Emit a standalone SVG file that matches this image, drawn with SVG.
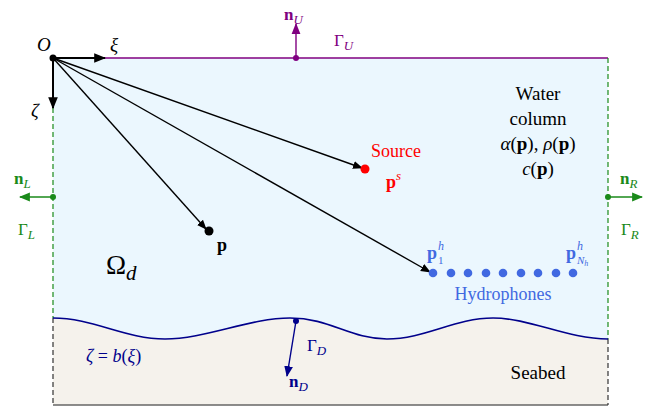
<svg xmlns="http://www.w3.org/2000/svg" width="667" height="412" viewBox="0 0 667 412" font-family="Liberation Serif">
<style>
.it{font-style:italic;}
.b{font-weight:bold;}
.blk{stroke:#000;stroke-width:1.4;fill:none;}
</style>
<defs>
<marker id="ak" viewBox="0 0 10 10" refX="9" refY="5" markerWidth="10" markerHeight="10" markerUnits="userSpaceOnUse" orient="auto"><path d="M0,1 L10,5 L0,9 Z" fill="#000"/></marker>
<marker id="akb" viewBox="0 0 10 10" refX="9" refY="5" markerWidth="12" markerHeight="12" markerUnits="userSpaceOnUse" orient="auto"><path d="M0,1 L10,5 L0,9 Z" fill="#000"/></marker>
<marker id="ap" viewBox="0 0 10 10" refX="9" refY="5" markerWidth="11" markerHeight="11" markerUnits="userSpaceOnUse" orient="auto"><path d="M0,1 L10,5 L0,9 Z" fill="#800080"/></marker>
<marker id="ag" viewBox="0 0 10 10" refX="9" refY="5" markerWidth="11" markerHeight="11" markerUnits="userSpaceOnUse" orient="auto"><path d="M0,1 L10,5 L0,9 Z" fill="#1a8a1a"/></marker>
<marker id="an" viewBox="0 0 10 10" refX="9" refY="5" markerWidth="11" markerHeight="11" markerUnits="userSpaceOnUse" orient="auto"><path d="M0,1 L10,5 L0,9 Z" fill="#00008b"/></marker>
</defs>

<g id="domain">
<path id="water" d="M53,58 H608 V339 C567,339 530,318 493,318 C455,318 425,339 387,339 C350,339 330,318 290,318 C250,318 205,339 165,339 C125,339 93,318 53,318 Z" fill="#ebf7fe"/>
<path id="seabed" d="M53,318 C93,318 125,339 165,339 C205,339 250,318 290,318 C330,318 350,339 387,339 C425,339 455,318 493,318 C530,318 567,339 608,339 V405 H53 Z" fill="#f5f2ec"/>
<line x1="53" y1="405" x2="608" y2="405" stroke="#666" stroke-width="1.6"/>
<line x1="53" y1="318" x2="53" y2="405" stroke="#333" stroke-width="1.2" stroke-dasharray="5,3"/>
<line x1="608" y1="339" x2="608" y2="405" stroke="#333" stroke-width="1.2" stroke-dasharray="5,3"/>
</g>

<g id="gammaU">
<line x1="53" y1="58" x2="608" y2="58" stroke="#800080" stroke-width="1.4"/>
<circle cx="296" cy="58" r="3" fill="#800080"/>
<line x1="296" y1="58" x2="296" y2="24" stroke="#800080" stroke-width="1.4" marker-end="url(#ap)"/>
<text font-family="Times New Roman" x="284" y="20" font-size="17" fill="#800080"><tspan class="b">n</tspan><tspan class="it" font-size="13" dy="4">U</tspan></text>
<text font-family="Times New Roman" x="334" y="46" font-size="17" fill="#800080">Γ<tspan class="it" font-size="13" dy="4">U</tspan></text>
</g>

<g id="gammaL">
<line x1="53" y1="108" x2="53" y2="318" stroke="#1a8a1a" stroke-width="1.2" stroke-dasharray="5,3"/>
<circle cx="53" cy="197" r="3" fill="#1a8a1a"/>
<line x1="53" y1="197" x2="20" y2="197" stroke="#1a8a1a" stroke-width="1.4" marker-end="url(#ag)"/>
<text font-family="Times New Roman" x="14" y="184" font-size="17" fill="#1a8a1a"><tspan class="b">n</tspan><tspan class="it" font-size="13" dy="4">L</tspan></text>
<text font-family="Times New Roman" x="18" y="235" font-size="17" fill="#1a8a1a">Γ<tspan class="it" font-size="13" dy="4">L</tspan></text>
</g>

<g id="gammaR">
<line x1="608" y1="58" x2="608" y2="339" stroke="#1a8a1a" stroke-width="1.2" stroke-dasharray="5,3"/>
<circle cx="608" cy="197" r="3" fill="#1a8a1a"/>
<line x1="608" y1="197" x2="642" y2="197" stroke="#1a8a1a" stroke-width="1.4" marker-end="url(#ag)"/>
<text font-family="Times New Roman" x="620" y="184" font-size="17" fill="#1a8a1a"><tspan class="b">n</tspan><tspan class="it" font-size="13" dy="4">R</tspan></text>
<text font-family="Times New Roman" x="621" y="235" font-size="17" fill="#1a8a1a">Γ<tspan class="it" font-size="13" dy="4">R</tspan></text>
</g>

<g id="gammaD">
<path d="M53,318 C93,318 125,339 165,339 C205,339 250,318 290,318 C330,318 350,339 387,339 C425,339 455,318 493,318 C530,318 567,339 608,339" fill="none" stroke="#00008b" stroke-width="1.6"/>
<circle cx="296" cy="321" r="3" fill="#00008b"/>
<line x1="296" y1="321" x2="287" y2="376" stroke="#00008b" stroke-width="1.4" marker-end="url(#an)"/>
<text font-family="Times New Roman" x="289" y="387" font-size="17" fill="#00008b"><tspan class="b">n</tspan><tspan class="it" font-size="13" dy="4">D</tspan></text>
<text font-family="Times New Roman" x="307" y="351" font-size="17" fill="#00008b">Γ<tspan class="it" font-size="13" dy="4">D</tspan></text>
<text font-family="Times New Roman" x="86" y="362" font-size="18" fill="#00008b"><tspan class="it">ζ</tspan> = <tspan class="it">b</tspan>(<tspan class="it">ξ</tspan>)</text>
</g>

<g id="origin">
<circle cx="53" cy="58" r="3.5" fill="#000"/>
<text font-family="Times New Roman" class="it" x="37" y="51" font-size="19">O</text>
<line x1="53" y1="58" x2="105" y2="58" stroke="#000" stroke-width="2" marker-end="url(#akb)"/>
<text font-family="Times New Roman" class="it" x="110" y="51" font-size="19">ξ</text>
<line x1="53" y1="58" x2="53" y2="108" stroke="#000" stroke-width="2" marker-end="url(#akb)"/>
<text font-family="Times New Roman" class="it" x="31" y="117" font-size="19">ζ</text>
</g>

<g id="connectors">
<line x1="53" y1="58" x2="362" y2="168" class="blk" marker-end="url(#ak)"/>
<line x1="53" y1="58" x2="206" y2="229" class="blk" marker-end="url(#ak)"/>
<line x1="53" y1="58" x2="430" y2="272" class="blk" marker-end="url(#ak)"/>
</g>

<g id="source">
<circle cx="365" cy="169" r="4.5" fill="#ff0000"/>
<text font-family="Times New Roman" x="371" y="157" font-size="18" fill="#ff0000">Source</text>
<text font-family="Times New Roman" x="386" y="188" font-size="18" fill="#ff0000"><tspan class="b">p</tspan><tspan class="it" font-size="13" dy="-8">s</tspan></text>
</g>

<g id="point">
<circle cx="209" cy="231" r="4.5" fill="#000"/>
<text font-family="Times New Roman" class="b" x="217" y="251" font-size="18">p</text>
</g>

<g id="hydrophones" fill="#4169e1">
<circle cx="433" cy="273" r="4.3"/>
<circle cx="451" cy="273" r="4.3"/>
<circle cx="468" cy="273" r="4.3"/>
<circle cx="486" cy="273" r="4.3"/>
<circle cx="503" cy="273" r="4.3"/>
<circle cx="521" cy="273" r="4.3"/>
<circle cx="538" cy="273" r="4.3"/>
<circle cx="556" cy="273" r="4.3"/>
<circle cx="573" cy="273" r="4.3"/>
<text font-family="Times New Roman" class="b" x="427" y="259" font-size="18">p</text>
<text font-family="Times New Roman" class="it" x="438" y="250" font-size="12">h</text>
<text font-family="Times New Roman" x="438" y="264" font-size="11">1</text>
<text font-family="Times New Roman" class="b" x="566" y="259" font-size="18">p</text>
<text font-family="Times New Roman" class="it" x="577" y="250" font-size="12">h</text>
<text font-family="Times New Roman" class="it" x="577" y="264" font-size="11">N<tspan font-size="8" dy="2">h</tspan></text>
<text font-family="Times New Roman" x="503" y="300" font-size="18" text-anchor="middle">Hydrophones</text>
</g>

<g id="labels">
<text font-family="Times New Roman" x="538" y="100" font-size="19" text-anchor="middle">Water</text>
<text font-family="Times New Roman" x="538" y="125" font-size="19" text-anchor="middle">column</text>
<text font-family="Times New Roman" x="538" y="150" font-size="19" text-anchor="middle"><tspan class="it">α</tspan>(<tspan class="b">p</tspan>), <tspan class="it">ρ</tspan>(<tspan class="b">p</tspan>)</text>
<text font-family="Times New Roman" x="538" y="175" font-size="19" text-anchor="middle"><tspan class="it">c</tspan>(<tspan class="b">p</tspan>)</text>
<text font-family="Times New Roman" x="106" y="274" font-size="27">Ω<tspan class="it" font-size="21" dy="6">d</tspan></text>
<text font-family="Times New Roman" x="538" y="379" font-size="19" text-anchor="middle">Seabed</text>
</g>
</svg>
